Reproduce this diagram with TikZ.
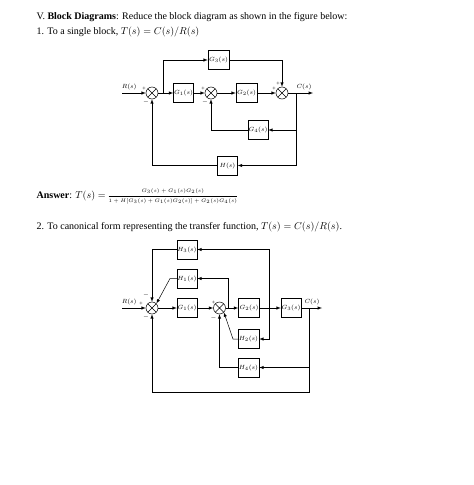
\documentclass[tikz,border=0pt]{standalone}
\usepackage{fontspec}
\setmainfont{Liberation Serif}
\usetikzlibrary{calc}
\tikzset{>=latex}

\begin{document}
\begin{tikzpicture}[x=1pt,y=-1pt,line width=0.5pt,
    blk/.style={draw,minimum width=20pt,minimum height=19pt,inner sep=0pt,font=\fontsize{6.5}{7}\selectfont},
    sum/.style={draw,circle,minimum size=12pt,inner sep=0pt,
      path picture={\draw (path picture bounding box.north west) -- (path picture bounding box.south east)
        (path picture bounding box.north east) -- (path picture bounding box.south west);}},
    lbl/.style={font=\fontsize{6.5}{7}\selectfont,inner sep=0.5pt},
    sgn/.style={font=\fontsize{6}{6}\selectfont,inner sep=0pt}]
  \useasboundingbox (0,0) rectangle (474,485); % page size

  % text of the exercise
  \node[anchor=base west] (ttl) at (33,19) {V. \textbf{Block Diagrams}: Reduce the block diagram as shown in the figure below:};
  \node[anchor=base west] (qa) at (33,34) {1. To a single block, $T(s)=C(s)/R(s)$};
  \node[anchor=base west] (ans) at (33,198) {\textbf{Answer}: $T(s)=$\,\raisebox{1pt}{\fontsize{5.5}{6.5}\selectfont
    $\displaystyle\frac{G_3(s)+G_1(s)G_2(s)}{1+H[G_3(s)+G_1(s)G_2(s)]+G_2(s)G_4(s)}$}};
  \node[anchor=base west] (qb) at (33,229) {2. To canonical form representing the transfer function, $T(s)=C(s)/R(s)$.};

  % first diagram
  \coordinate (r1) at (122,93); % input
  \node[sum] (s1) at (152,93) {};
  \coordinate (b1) at (163,93); % branch to G3
  \node[blk] (g1) at (183.5,93) {$G_1(s)$};
  \node[sum] (s2) at (211,93) {};
  \node[blk,minimum width=21pt] (g2) at (246.5,93) {$G_2(s)$};
  \node[sum] (s3) at (282,93) {};
  \coordinate (b2) at (296,93); % output branch
  \coordinate (c1) at (313,93); % output
  \node[blk,minimum width=21pt] (g3) at (218.5,60) {$G_3(s)$};
  \node[blk] (g4) at (258,130) {$G_4(s)$};
  \node[blk] (h) at (227.5,165.5) {$H(s)$};
  \node[lbl,anchor=south west] (rl1) at (121,91) {$R(s)$};
  \node[lbl,anchor=south] (cl1) at (304,91) {$C(s)$};
  \draw[->] (r1) -- (s1);
  \draw[->] (s1) -- (g1);
  \draw[->] (b1) |- (g3);
  \draw[->] (g3) -| (s3);
  \draw[->] (g1) -- (s2);
  \draw[->] (s2) -- (g2);
  \draw[->] (g2) -- (s3);
  \draw[->] (s3) -- (c1);
  \draw[->] (b2) |- (g4);
  \draw[->] (g4) -| (s2);
  \draw[->] (b2) |- (h);
  \draw[->] (h) -| (s1);
  \foreach \s in {s1,s2,s3}{ % sign on the left input
    \node[sgn] at ($(\s)+(-8,-4)$) {+};
  }
  \foreach \s in {s1,s2}{ % sign on the lower input
    \node[sgn] at ($(\s)+(-6,9)$) {$-$};
  }
  \node[sgn] at ($(s3)+(-4,-9)$) {+};

  % second diagram
  \coordinate (r2) at (122,308); % input
  \node[sum] (u1) at (152,308) {};
  \node[blk] (q1) at (187,308) {$G_1(s)$};
  \node[sum] (u2) at (219.5,308) {};
  \coordinate (b3) at (228,308); % branch to H1
  \node[blk,minimum width=21pt] (q2) at (249,308) {$G_2(s)$};
  \coordinate (b4) at (269,308); % branch to H2, H3
  \node[blk] (q3) at (291,308) {$G_3(s)$};
  \coordinate (b5) at (309,308); % output branch
  \coordinate (c2) at (322,308); % output
  \node[blk] (h3) at (187,249.5) {$H_3(s)$};
  \node[blk] (h1) at (187,278.5) {$H_1(s)$};
  \node[blk,minimum width=21pt] (h2) at (248.5,339) {$H_2(s)$};
  \node[blk,minimum width=21pt] (h4) at (248.5,367.5) {$H_4(s)$};
  \coordinate (e1) at (170,278.5); % bend after H1
  \coordinate (e2) at (233,339); % bend after H2
  \coordinate (d1) at (309,392); % corner of outer loop
  \node[lbl,anchor=south west] (rl2) at (121,306) {$R(s)$};
  \node[lbl,anchor=south] (cl2) at (312,306) {$C(s)$};
  \draw[->] (r2) -- (u1);
  \draw[->] (u1) -- (q1);
  \draw[->] (q1) -- (u2);
  \draw[->] (u2) -- (q2);
  \draw[->] (q2) -- (q3);
  \draw[->] (q3) -- (c2);
  \draw[->] (b4) |- (h3);
  \draw[->] (b4) |- (h2);
  \draw[->] (h3) -| (u1);
  \draw[->] (b3) |- (h1);
  \draw[->] (h1) -- (e1) -- (u1.north east);
  \draw[->] (h2) -- (e2) -- (u2.south east);
  \draw[->] (b5) |- (h4);
  \draw[->] (h4) -| (u2);
  \draw[->] (b5) -- (d1) -| (u1);
  \node[sgn] at ($(u1)+(-11,-4)$) {+};
  \node[sgn] at ($(u1)+(-6,-13)$) {$-$};
  \node[sgn] at ($(u1)+(-6,9)$) {$-$};
  \node[sgn] at ($(u2)+(-6,-5)$) {+};
  \node[sgn] at ($(u2)+(-6,10)$) {$-$};
\end{tikzpicture}
\end{document}
